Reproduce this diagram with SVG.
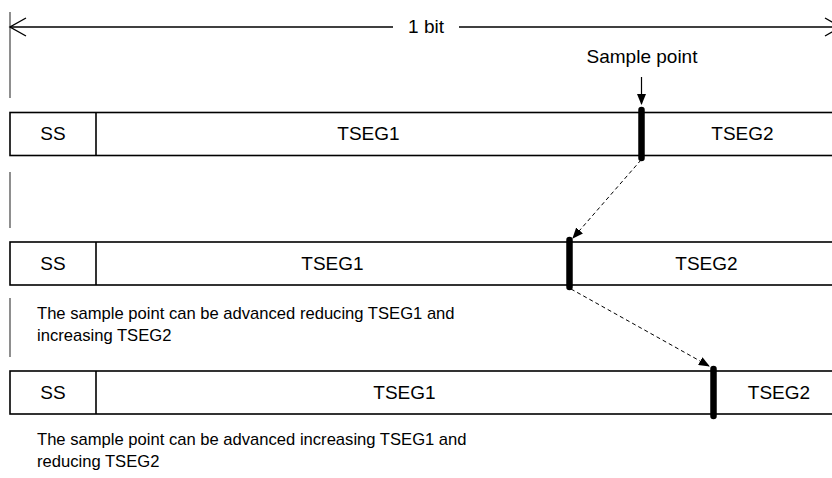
<svg xmlns="http://www.w3.org/2000/svg" width="832" height="478" viewBox="0 0 832 478">
<style>
text{font-family:"Liberation Sans",Arial,sans-serif;fill:#000}
.lbl{font-size:19px;text-anchor:middle}
.body{font-size:16.6px}
.box{fill:#fff;stroke:#000;stroke-width:1.6}
.div{stroke:#000;stroke-width:1.6}
.sp{stroke:#000;stroke-width:6.5;stroke-linecap:round}
.dim{stroke:#000;stroke-width:1.4;fill:none}
.tick{stroke:#444;stroke-width:1.2}
.dash{stroke:#000;stroke-width:1;stroke-dasharray:4 3;fill:none}
</style>
<defs>
<marker id="ah" markerWidth="11" markerHeight="9" refX="10" refY="4.5" orient="auto" markerUnits="userSpaceOnUse">
<path d="M0,0 L11,4.5 L0,9 Z" fill="#000"/>
</marker>
</defs>
<g id="dimension">
<line class="tick" x1="10" y1="12" x2="10" y2="98"/>
<line class="dim" x1="10" y1="27" x2="393" y2="27"/>
<line class="dim" x1="459" y1="27" x2="841" y2="27"/>
<polyline class="dim" points="26,18 10,27 26,36"/>
<polyline class="dim" points="825,18 841,27 825,36"/>
<text x="426" y="33" class="lbl">1 bit</text>
</g>
<g id="guides">
<line class="tick" x1="10" y1="172" x2="10" y2="228"/>
<line class="tick" x1="10" y1="298" x2="10" y2="357"/>
</g>
<g id="row1">
<rect class="box" x="10" y="112.5" width="840" height="43"/>
<line class="div" x1="96" y1="112.5" x2="96" y2="155.5"/>
<text class="lbl" x="53" y="140">SS</text>
<text class="lbl" x="368.5" y="140">TSEG1</text>
<text class="lbl" x="742.5" y="140">TSEG2</text>
<line class="sp" x1="641.5" y1="110" x2="641.5" y2="158"/>
</g>
<g id="row2">
<rect class="box" x="10" y="242" width="840" height="43"/>
<line class="div" x1="96" y1="242" x2="96" y2="285"/>
<text class="lbl" x="53" y="269.5">SS</text>
<text class="lbl" x="332.5" y="269.5">TSEG1</text>
<text class="lbl" x="706.5" y="269.5">TSEG2</text>
<line class="sp" x1="569.5" y1="240" x2="569.5" y2="287"/>
</g>
<g id="row3">
<rect class="box" x="10" y="371" width="840" height="43"/>
<line class="div" x1="96" y1="371" x2="96" y2="414"/>
<text class="lbl" x="53" y="398.5">SS</text>
<text class="lbl" x="404.5" y="398.5">TSEG1</text>
<text class="lbl" x="779" y="398.5">TSEG2</text>
<line class="sp" x1="713.5" y1="369" x2="713.5" y2="416"/>
</g>
<g id="sample-point">
<text class="lbl" x="642" y="63">Sample point</text>
</g>
<g id="notes">
<text class="body" x="37" y="319">The sample point can be advanced reducing TSEG1 and</text>
<text class="body" x="37" y="341">increasing TSEG2</text>
<text class="body" x="37" y="445">The sample point can be advanced increasing TSEG1 and</text>
<text class="body" x="37" y="467">reducing TSEG2</text>
</g>
<g id="connectors">
<line x1="641.5" y1="77" x2="641.5" y2="104" stroke="#000" stroke-width="1.2" marker-end="url(#ah)"/>
<line class="dash" x1="641" y1="160" x2="573" y2="238" marker-end="url(#ah)"/>
<line class="dash" x1="571" y1="289" x2="709" y2="366" marker-end="url(#ah)"/>
</g>
</svg>
